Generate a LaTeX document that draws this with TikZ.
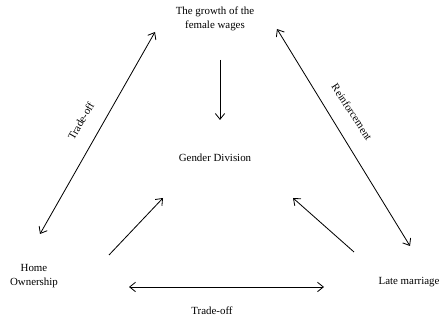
\documentclass[tikz,border=0pt]{standalone}
\usepackage{fontspec}
\setmainfont{Liberation Serif}
\usetikzlibrary{arrows.meta}
\begin{document}
\begin{tikzpicture}[x=0.03cm,y=-0.03cm,
  every node/.style={font=\fontsize{9.3pt}{12pt}\selectfont},
  lbl/.style={align=center,inner sep=1pt},
  arr/.style={-{Straight Barb[length=5pt,width=8pt]},line width=0.7pt},
  dbl/.style={{Straight Barb[length=5pt,width=8pt]}-{Straight Barb[length=5pt,width=8pt]},line width=0.7pt}]
  \useasboundingbox (0,0) rectangle (441,321);
  % the four factors
  \node[lbl] (wages) at (215,19) {The growth of the\\female wages};
  \node[lbl] (gender) at (215,158) {Gender Division};
  \node[lbl] (home) at (34,276) {Home\\Ownership};
  \node[lbl] (late) at (409,282) {Late marriage};
  % arrow ends
  \coordinate (wl) at (155,32);
  \coordinate (wr) at (277,29);
  \coordinate (hu) at (40,234);
  \coordinate (hr) at (129,287);
  \coordinate (hg) at (109,255);
  \coordinate (lu) at (410,246);
  \coordinate (ll) at (324,287);
  \coordinate (lg) at (354,252);
  \coordinate (gl) at (163,198);
  \coordinate (gr) at (293,198);
  \coordinate (gt) at (220,120);
  \coordinate (wb) at (220,60);
  % connectors
  \draw[dbl] (hu) -- (wl);
  \draw[dbl] (wr) -- (lu);
  \draw[dbl] (hr) -- (ll);
  \draw[arr] (wb) -- (gt);
  \draw[arr] (hg) -- (gl);
  \draw[arr] (lg) -- (gr);
  % labels
  \node[rotate=60] (tradeleft) at (81,121) {Trade-off};
  \node[rotate=-57] (reinf) at (352,112) {Reinforcement};
  \node (tradebottom) at (212,311) {Trade-off};
\end{tikzpicture}
\end{document}
